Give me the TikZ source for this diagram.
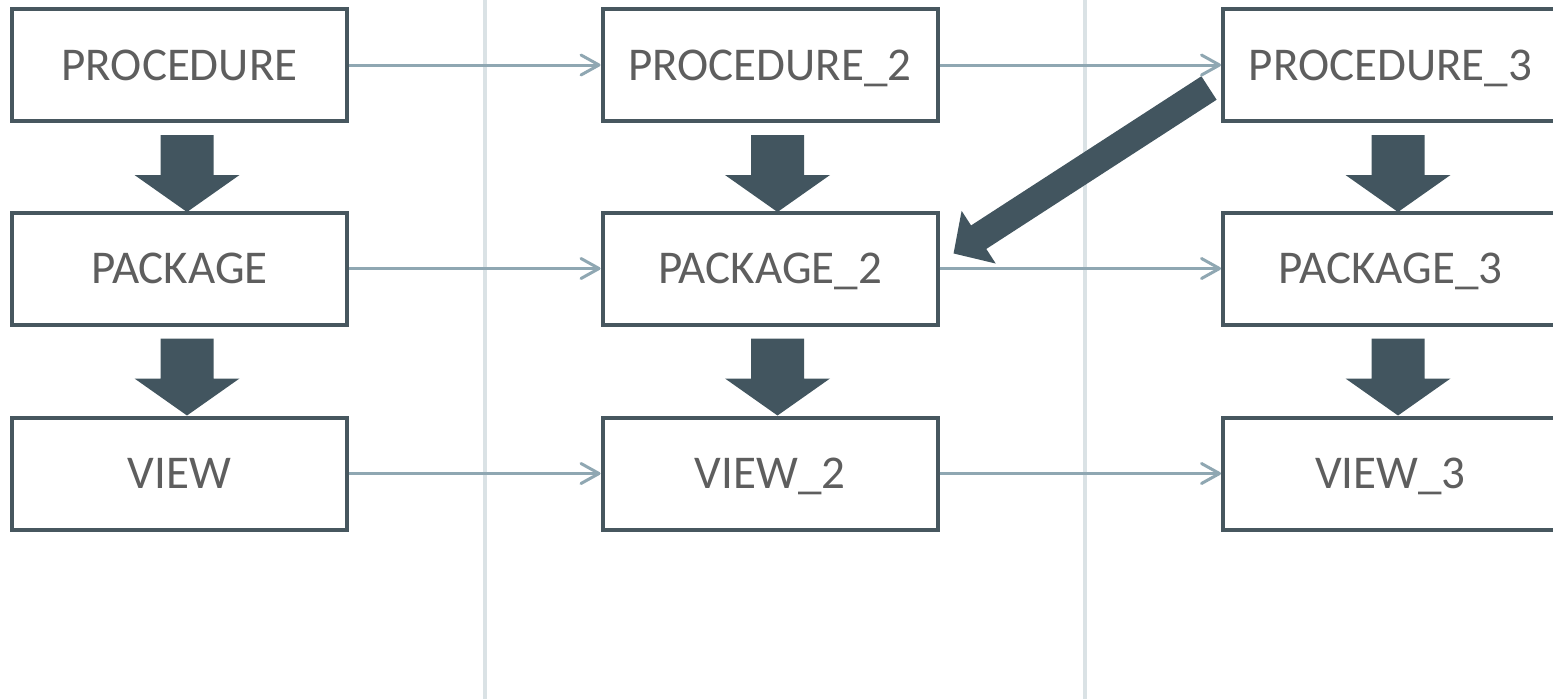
\documentclass[tikz,border=0pt]{standalone}
\usepackage{fontspec}
\setmainfont{Carlito}
\usetikzlibrary{arrows.meta,calc}
\definecolor{boxc}{HTML}{47575F}
\definecolor{bigc}{HTML}{42555F}
\definecolor{thinc}{HTML}{8FA7B2}
\definecolor{divc}{HTML}{DAE2E5}
\definecolor{txtc}{HTML}{5E5E5E}
\tikzset{
  box/.style={draw=boxc, line width=4pt, minimum width=335pt, minimum height=112pt,
    inner sep=0pt, text=txtc, font=\fontsize{47}{50}\selectfont, fill=white,
    text height=30pt, text depth=0pt},
  thinarrow/.style={draw=thinc, line width=3pt, -{Straight Barb[length=18pt,width=20pt,round]}},
  divider/.style={draw=divc, line width=4pt},
  bigarrow/.style={draw=bigc, line width=28pt, -{Triangle[length=30pt,width=61pt]}},
  bigdown/.pic={\fill[bigc] (-26.5,12) -- (26.5,12) -- (26.5,52) -- (52.5,52) -- (0,89) -- (-52.5,52) -- (-26.5,52) -- cycle;}
}
\begin{document}
\begin{tikzpicture}[x=1pt,y=-1pt]
\clip (0,0) rectangle (1553,699);
\fill[white] (0,0) rectangle (1553,699);
\coordinate (d1t) at (485,0); \coordinate (d1b) at (485,699);
\coordinate (d2t) at (1085,0); \coordinate (d2b) at (1085,699);
\draw[divider] (d1t) -- (d1b);
\draw[divider] (d2t) -- (d2b);
% column 1
\node[box] (p1) at (179.5,65) {PROCEDURE};
\node[box] (k1) at (179.5,268.5) {PACKAGE};
\node[box] (v1) at (179.5,473.5) {VIEW};
% column 2
\node[box] (p2) at (770,65) {PROCEDURE\_2};
\node[box] (k2) at (770,268.5) {PACKAGE\_2};
\node[box] (v2) at (770,473.5) {VIEW\_2};
% column 3
\node[box] (p3) at (1390.5,65) {PROCEDURE\_3};
\node[box] (k3) at (1390.5,268.5) {PACKAGE\_3};
\node[box] (v3) at (1390.5,473.5) {VIEW\_3};
% thin connectors
\draw[thinarrow] (p1.east) -- (p2.west);
\draw[thinarrow] (k1.east) -- (k2.west);
\draw[thinarrow] (v1.east) -- (v2.west);
\draw[thinarrow] (p2.east) -- (p3.west);
\draw[thinarrow] (k2.east) -- (k3.west);
\draw[thinarrow] (v2.east) -- (v3.west);
% big down arrows
\pic at ($(p1.south)+(7.5,0)$) {bigdown};
\pic at ($(k1.south)+(7.5,0)$) {bigdown};
\pic at ($(p2.south)+(7.5,0)$) {bigdown};
\pic at ($(k2.south)+(7.5,0)$) {bigdown};
\pic at ($(p3.south)+(7.5,0)$) {bigdown};
\pic at ($(k3.south)+(7.5,0)$) {bigdown};
% diagonal arrow
\coordinate (dgs) at ($(p3.west)+(-12,23)$);
\coordinate (dge) at ($(k2.north east)+(14,43)$);
\draw[bigarrow] (dgs) -- (dge);
\end{tikzpicture}
\end{document}
